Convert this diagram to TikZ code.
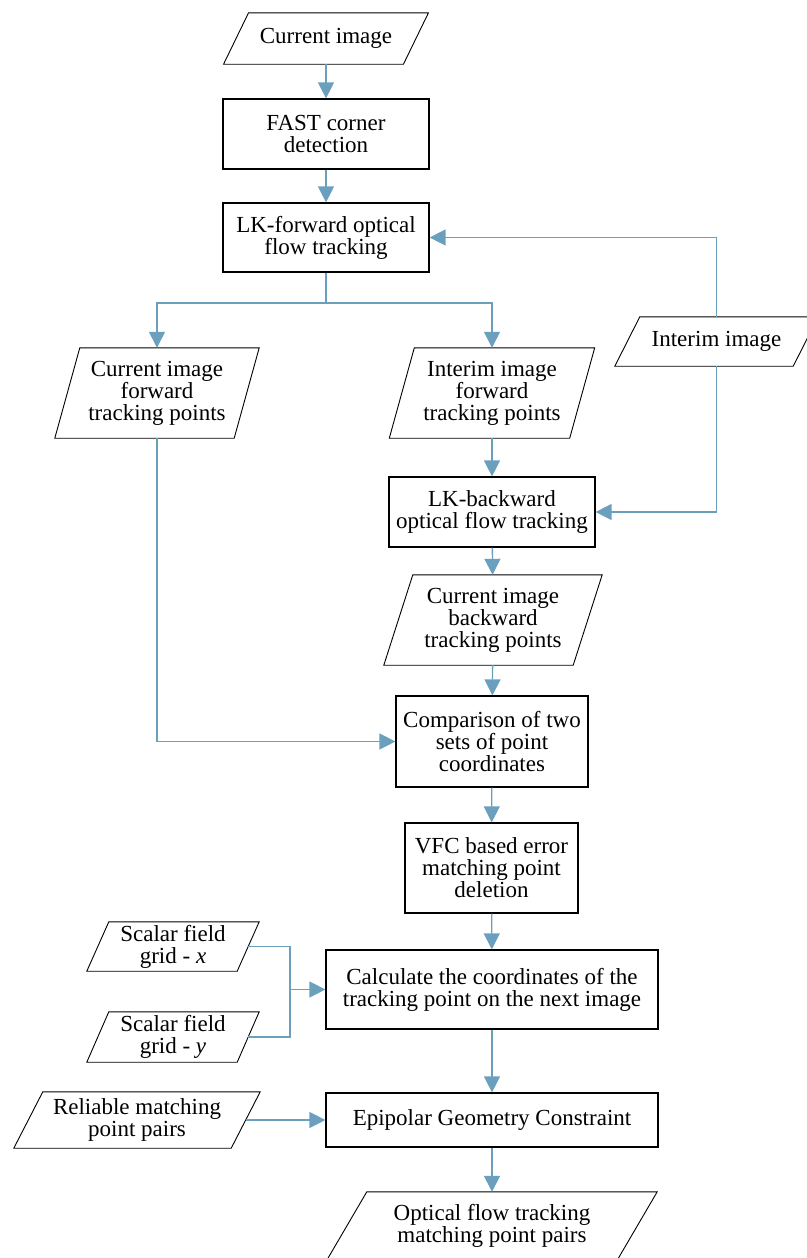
\documentclass[tikz,border=0pt]{standalone}
\usepackage{fontspec}
\setmainfont{Liberation Serif}
\usetikzlibrary{arrows.meta}
\definecolor{flow}{RGB}{106,159,190}
\tikzset{
  txt/.style={inner sep=0pt, align=center, font=\fontsize{23}{22}\selectfont},
  box/.style={txt, draw=black, line width=1.2pt},
  ptxt/.style={txt, draw=none},
  outline/.style={draw=black, line width=0.9pt, line join=miter},
  conn/.style={draw=flow, line width=1.3pt, -{Triangle[length=16pt,width=16pt]}},
  line/.style={draw=flow, line width=1.3pt}
}
\newcommand\parashape[2]{\draw[outline] ([xshift=#2]#1.north west) -- ([xshift=#2]#1.north east) -- ([xshift=-#2]#1.south east) -- ([xshift=-#2]#1.south west) -- cycle;}
\begin{document}
\begin{tikzpicture}[x=1pt,y=-1pt]
\useasboundingbox (0,0) rectangle (806,1258);
% nodes
\node[ptxt, minimum width=179.5pt, minimum height=51pt] (cur) at (326,38.5) {Current image};
\parashape{cur}{12.5pt}
\node[box, minimum width=206pt, minimum height=70pt] (fast) at (326,134) {FAST corner\\detection};
\node[box, minimum width=206pt, minimum height=69pt] (lkf) at (326,237.5) {LK-forward optical\\flow tracking};
\node[ptxt, minimum width=179pt, minimum height=90pt] (cfp) at (157,393) {Current image\\forward\\tracking points};
\parashape{cfp}{12.5pt}
\node[ptxt, minimum width=180pt, minimum height=90pt] (ifp) at (492,393) {Interim image\\forward\\tracking points};
\parashape{ifp}{12.5pt}
\node[ptxt, minimum width=178pt, minimum height=49pt] (inter) at (716.5,341.5) {Interim image};
\parashape{inter}{12.5pt}
\node[box, minimum width=206pt, minimum height=70pt] (lkb) at (492,512) {LK-backward\\optical flow tracking};
\node[ptxt, minimum width=189pt, minimum height=90pt] (cbp) at (493,620) {Current image\\backward\\tracking points};
\parashape{cbp}{14.5pt}
\node[box, minimum width=192pt, minimum height=91pt] (comp) at (492,741.5) {Comparison of two\\sets of point\\coordinates};
\node[box, minimum width=173pt, minimum height=90pt] (vfc) at (491.5,868) {VFC based error\\matching point\\deletion};
\node[box, minimum width=332pt, minimum height=79pt] (calc) at (492,989.5) {Calculate the coordinates of the\\tracking point on the next image};
\node[ptxt, minimum width=150pt, minimum height=49pt] (sx) at (173,946.5) {Scalar field\\grid - \textit{x}};
\parashape{sx}{11pt}
\node[ptxt, minimum width=150pt, minimum height=50pt] (sy) at (173,1037) {Scalar field\\grid - \textit{y}};
\parashape{sy}{11pt}
\node[box, minimum width=332pt, minimum height=54pt] (epi) at (492,1120) {Epipolar Geometry Constraint};
\node[ptxt, minimum width=217pt, minimum height=56pt] (rel) at (137,1120) {Reliable matching\\point pairs};
\parashape{rel}{14.5pt}
\node[ptxt, minimum width=290pt, minimum height=68pt] (out) at (492,1226) {Optical flow tracking\\matching point pairs};
\parashape{out}{20pt}
% connectors
\coordinate (br) at (326,303);
\coordinate (jn) at (290,989.5);
\draw[conn] (cur) -- (fast);
\draw[conn] (fast) -- (lkf);
\draw[line] (lkf.south) -- (br);
\draw[conn] (br) -| (cfp.north);
\draw[conn] (br) -| (ifp.north);
\draw[conn] (inter.north) |- (lkf.east);
\draw[conn] (inter.south) |- (lkb.east);
\draw[conn] (ifp) -- (lkb);
\draw[conn] (lkb) -- (cbp);
\draw[conn] (cbp) -- (comp);
\draw[conn] (cfp.south) |- (comp.west);
\draw[conn] (comp) -- (vfc);
\draw[conn] (vfc) -- (calc);
\draw[line] (sx.east) -| (jn);
\draw[line] (sy.east) -| (jn);
\draw[conn] (jn) -- (calc.west);
\draw[conn] (calc) -- (epi);
\draw[conn] (rel.east) -- (epi.west);
\draw[conn] (epi) -- (out.north);
\end{tikzpicture}
\end{document}
